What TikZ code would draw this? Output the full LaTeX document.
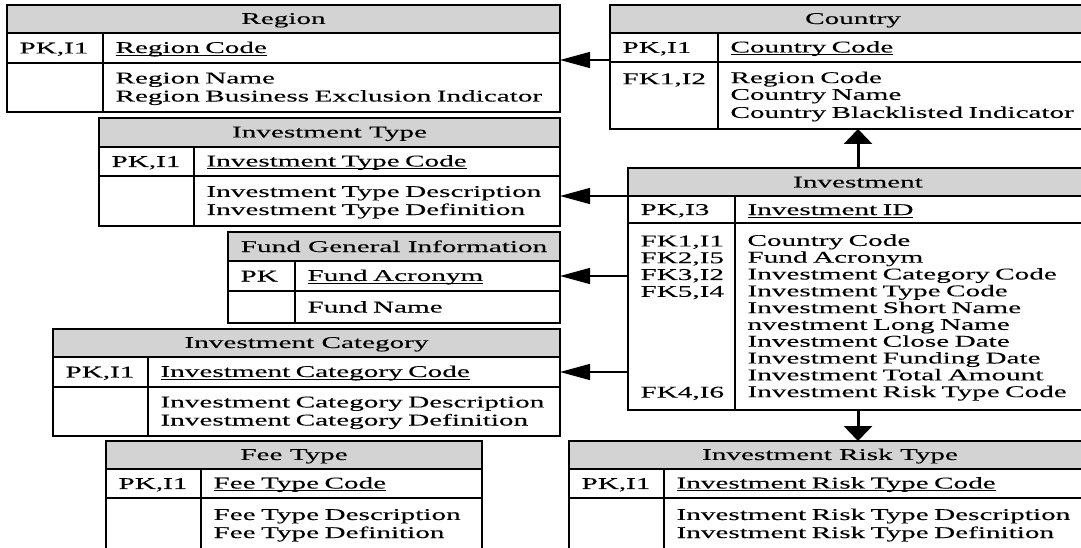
\documentclass[tikz,border=0pt]{standalone}
\usepackage{fontspec}
\setmainfont{Liberation Serif}[FakeStretch=1.78, FakeBold=0.15]
\usepackage{tikz}
\usetikzlibrary{arrows.meta}
\definecolor{headGray}{HTML}{D3D3D3}
\newcommand{\erfont}{\fontsize{16.4pt}{16.8pt}\selectfont}
\newcommand{\erstrut}{\rule[-2.5pt]{0pt}{16pt}}
\newcommand{\pkline}[1]{\setbox0\hbox{#1}\rlap{\rule[-2.4pt]{\wd0}{0.8pt}}\box0}
\begin{document}
\begin{tikzpicture}[x=1pt, y=-1pt, line width=1.2pt,
		every node/.style={draw, font=\erfont, anchor=north west, inner ysep=0pt, outer sep=0pt,
			execute at begin node=\erstrut, execute at end node=\erstrut},
		head/.style={fill=headGray},
		cell/.style={align=left, inner xsep=12.5pt},
		harr/.style={-{Triangle[length=30pt,width=16pt]}},
		varr/.style={-{Triangle[length=15pt,width=28pt]}, line width=3pt}]
	\useasboundingbox (0,0) rectangle (1081,548);
	\clip (0,0) rectangle (1081,548);

	% Region
	\node[head, minimum width=553pt, minimum height=28pt] (region) at (7,5) {Region};
	\node[cell, text width=71pt, minimum height=30pt] (region-k1) at (region.south west) {PK,I1};
	\node[cell, text width=432pt, minimum height=30pt] (region-f1) at (region-k1.north east) {\pkline{Region Code}};
	\node[cell, text width=71pt, minimum height=49pt] (region-k2) at (region-k1.south west) {};
	\node[cell, text width=432pt, minimum height=49pt] (region-f2) at (region-k2.north east) {Region Name\\Region Business Exclusion Indicator};

	% Country
	\node[head, minimum width=486pt, minimum height=28pt] (country) at (610,5) {Country};
	\node[cell, text width=83pt, minimum height=29pt] (country-k1) at (country.south west) {PK,I1};
	\node[cell, text width=353pt, minimum height=29pt] (country-f1) at (country-k1.north east) {\pkline{Country Code}};
	\node[cell, text width=83pt, minimum height=67pt] (country-k2) at (country-k1.south west) {FK1,I2\\\mbox{}\\\mbox{}};
	\node[cell, text width=353pt, minimum height=67pt] (country-f2) at (country-k2.north east) {Region Code\\Country Name\\Country Blacklisted Indicator};

	% Investment Type
	\node[head, minimum width=461pt, minimum height=29pt] (invtype) at (99,118) {Investment Type};
	\node[cell, text width=70pt, minimum height=29pt] (invtype-k1) at (invtype.south west) {PK,I1};
	\node[cell, text width=341pt, minimum height=29pt] (invtype-f1) at (invtype-k1.north east) {\pkline{Investment Type Code}};
	\node[cell, text width=70pt, minimum height=50pt] (invtype-k2) at (invtype-k1.south west) {};
	\node[cell, text width=341pt, minimum height=50pt] (invtype-f2) at (invtype-k2.north east) {Investment Type Description\\Investment Type Definition};

	% Fund General Information
	\node[head, minimum width=332pt, minimum height=29pt] (fund) at (228,232) {Fund General Information};
	\node[cell, text width=42pt, minimum height=30pt] (fund-k1) at (fund.south west) {PK};
	\node[cell, text width=240pt, minimum height=30pt] (fund-f1) at (fund-k1.north east) {\pkline{Fund Acronym}};
	\node[cell, text width=42pt, minimum height=32pt] (fund-k2) at (fund-k1.south west) {};
	\node[cell, text width=240pt, minimum height=32pt] (fund-f2) at (fund-k2.north east) {Fund Name};

	% Investment
	\node[head, minimum width=460pt, minimum height=28pt] (inv) at (628,168) {Investment};
	\node[cell, text width=82pt, minimum height=27pt] (inv-k1) at (inv.south west) {PK,I3};
	\node[cell, text width=328pt, minimum height=27pt] (inv-f1) at (inv-k1.north east) {\pkline{Investment ID}};
	\node[cell, text width=82pt, minimum height=187pt] (inv-k2) at (inv-k1.south west) {FK1,I1\\FK2,I5\\FK3,I2\\FK5,I4\\\mbox{}\\\mbox{}\\\mbox{}\\\mbox{}\\\mbox{}\\FK4,I6};
	\node[cell, text width=328pt, minimum height=187pt] (inv-f2) at (inv-k2.north east) {Country Code\\Fund Acronym\\Investment Category Code\\Investment Type Code\\Investment Short Name\\nvestment Long Name\\Investment Close Date\\Investment Funding Date\\Investment Total Amount\\Investment Risk Type Code};

	% Investment Category
	\node[head, minimum width=507pt, minimum height=28pt] (cat) at (53,329) {Investment Category};
	\node[cell, text width=70pt, minimum height=30pt] (cat-k1) at (cat.south west) {PK,I1};
	\node[cell, text width=387pt, minimum height=30pt] (cat-f1) at (cat-k1.north east) {\pkline{Investment Category Code}};
	\node[cell, text width=70pt, minimum height=49pt] (cat-k2) at (cat-k1.south west) {};
	\node[cell, text width=387pt, minimum height=49pt] (cat-f2) at (cat-k2.north east) {Investment Category Description\\Investment Category Definition};

	% Fee Type
	\node[head, minimum width=376pt, minimum height=28pt] (fee) at (106,441) {Fee Type};
	\node[cell, text width=70pt, minimum height=29pt] (fee-k1) at (fee.south west) {PK,I1};
	\node[cell, text width=256pt, minimum height=29pt] (fee-f1) at (fee-k1.north east) {\pkline{Fee Type Code}};
	\node[cell, text width=70pt, minimum height=52pt] (fee-k2) at (fee-k1.south west) {};
	\node[cell, text width=256pt, minimum height=52pt] (fee-f2) at (fee-k2.north east) {Fee Type Description\\Fee Type Definition};

	% Investment Risk Type
	\node[head, minimum width=522pt, minimum height=28pt] (risk) at (569,441) {Investment Risk Type};
	\node[cell, text width=70pt, minimum height=29pt] (risk-k1) at (risk.south west) {PK,I1};
	\node[cell, text width=402pt, minimum height=29pt] (risk-f1) at (risk-k1.north east) {\pkline{Investment Risk Type Code}};
	\node[cell, text width=70pt, minimum height=52pt] (risk-k2) at (risk-k1.south west) {};
	\node[cell, text width=402pt, minimum height=52pt] (risk-f2) at (risk-k2.north east) {Investment Risk Type Description\\Investment Risk Type Definition};

	\coordinate (cr) at ([yshift=2pt]country-k1.south west);
	\draw[harr] (cr) -- (cr -| region-f1.east);
	\draw[harr] (inv.south west) -- (inv.south west -| invtype-f2.east);
	\draw[harr] (inv.west |- fund-f1.east) -- (fund-f1.east);
	\draw[harr] (inv.west |- cat-f1.east) -- (cat-f1.east);
	\draw[varr] (inv.north) -- (inv.north |- country-f2.south);
	\draw[varr] (inv.north |- inv-f2.south) -- (inv.north |- risk.north);
\end{tikzpicture}
\end{document}
